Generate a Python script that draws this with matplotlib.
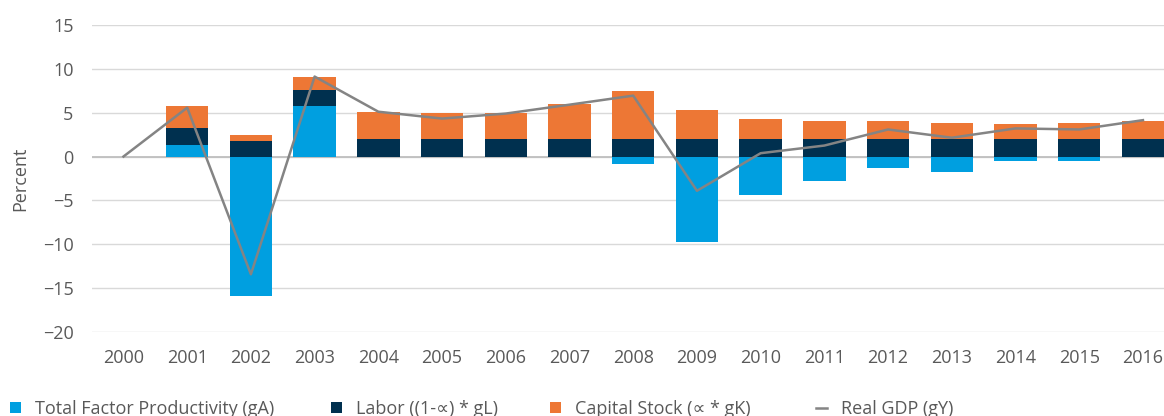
import numpy as np
import matplotlib
matplotlib.use("Agg")
import matplotlib.pyplot as plt

# values (percent)
years = [str(y) for y in range(2000, 2017)]
tfp = [0, 1.3, -15.9, 5.8, 0, 0, 0, 0, -0.8, -9.7, -4.4, -2.8, -1.3, -1.75, -0.55, -0.55, 0]
labor = [0, 1.9, 1.75, 1.8, 1.95, 1.95, 1.95, 1.95, 1.95, 1.95, 1.95, 1.95, 1.95, 1.95, 1.95, 1.95, 2.05]
capital = [0, 2.6, 0.68, 1.5, 3.15, 2.95, 3.05, 4.07, 5.55, 3.4, 2.37, 2.15, 2.15, 1.92, 1.7, 1.92, 2.03]
gdp = [0, 5.56, -13.4, 9.1, 5.1, 4.32, 4.89, 5.9, 6.93, -3.9, 0.38, 1.25, 3.08, 2.14, 3.2, 3.08, 4.14]

labels = ["Total Factor Productivity (gA)", "Labor ((1-\u221d) * gL)",
          "Capital Stock (\u221d * gK)", "Real GDP (gY)"]
colors = ["#009fe0", "#00304f", "#ed7735"]
line_color = "#848484"
text_color = "#595959"

plt.rcParams['font.family'] = ['Open Sans', 'DejaVu Sans']
plt.rcParams['font.size'] = 13

fig = plt.figure(figsize=(11.64, 4.16), dpi=100)
# axes run a little past the right edge, like the cropped original
ax = fig.add_axes([0.0787, 0.2012, 0.9306, 0.7394])

x = np.arange(len(years))
pos_bottom = np.zeros(len(years))
neg_bottom = np.zeros(len(years))
handles = []
# Excel-style stacking: positives go up, negatives go down
for vals, col, lab in zip([tfp, labor, capital], colors, labels[:3]):
    vals = np.array(vals, dtype=float)
    bottom = np.where(vals >= 0, pos_bottom, neg_bottom)
    bars = ax.bar(x, vals, width=0.667, bottom=bottom, color=col, label=lab, zorder=2)
    handles.append(bars)
    pos_bottom += np.where(vals >= 0, vals, 0)
    neg_bottom += np.where(vals < 0, vals, 0)

line, = ax.plot(x, gdp, color=line_color, lw=1.8, label=labels[3], zorder=3)
handles.append(line)

ax.set_xlim(-0.5, len(years) - 0.5)
ax.set_ylim(-20, 15)
ax.set_yticks(np.arange(-20, 16, 5))
ax.set_xticks(x)
ax.set_xticklabels(years)
ax.yaxis.grid(True, color="#d9d9d9", lw=1.0, zorder=0)
ax.axhline(0, color="#bfbfbf", lw=1.3, zorder=1.5)
ax.set_axisbelow(True)
for s in ax.spines.values():
    s.set_visible(False)
ax.tick_params(axis='both', length=0, colors=text_color, labelsize=13)
ax.tick_params(axis='x', pad=12)
ax.tick_params(axis='y', pad=13)

ax.set_ylabel("Percent", color=text_color, fontsize=13)
ax.yaxis.set_label_coords(-0.058, 0.5)

# one legend per entry so each sits where the original puts it
legend_x = [10 / 1164, 331 / 1164, 550 / 1164, 816 / 1164]
for h, lab, lx in zip(handles, labels, legend_x):
    leg = fig.legend([h], [lab], loc='center left', bbox_to_anchor=(lx, 0.017),
                     frameon=False, fontsize=13, borderpad=0, borderaxespad=0,
                     handlelength=0.62, handleheight=0.62, handletextpad=0.75)
    for t in leg.get_texts():
        t.set_color(text_color)

fig.savefig("out.png", dpi=100, facecolor="white")
